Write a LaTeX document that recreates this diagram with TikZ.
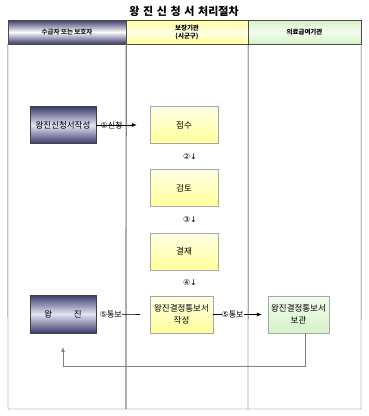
\documentclass[tikz,border=0pt]{standalone}
\usepackage{fontspec}
\setmainfont{Noto Sans CJK KR}
\newfontfamily\circfont{DejaVu Sans}
\usetikzlibrary{arrows.meta,positioning}

\definecolor{navy}{HTML}{3A3A6A}
\definecolor{lilac}{HTML}{E4E4F4}
\definecolor{lemon}{HTML}{FFFF9A}
\definecolor{cream}{HTML}{FFFFE6}
\definecolor{mint}{HTML}{D6F2C8}
\definecolor{paleg}{HTML}{F2FCEE}
\newcommand{\stepno}[1]{{\circfont #1}}

\begin{document}
\begin{tikzpicture}[x=1pt, y=-1pt,
  hdr/.style={rectangle, draw=gray!60!black, minimum height=24pt, align=center, font=\fontsize{6.5}{8}\selectfont\bfseries, inner sep=0pt},
  navybox/.style={rectangle, draw=gray!50!black, top color=navy, bottom color=navy, middle color=lilac, minimum width=66pt, minimum height=37pt, align=center, font=\fontsize{8.5}{12}\selectfont, inner sep=0pt},
  yelbox/.style={rectangle, draw=gray!70, top color=cream, bottom color=lemon, minimum width=68pt, minimum height=37pt, align=center, font=\fontsize{8.5}{12}\selectfont, inner sep=0pt},
  grnbox/.style={rectangle, draw=gray!70, top color=paleg, bottom color=mint, minimum width=61pt, minimum height=37pt, align=center, font=\fontsize{8.5}{12}\selectfont, inner sep=0pt},
  arr/.style={-{Latex[length=5pt,width=4pt]}, semithick},
  lab/.style={font=\fontsize{8}{9}\selectfont, inner sep=0pt}
]
\useasboundingbox (0,0) rectangle (369,416);
\node[font=\fontsize{11}{12}\selectfont\bfseries] (title) at (184,11) {왕\,\,진\,\,신\,\,청\,\,서\,\,처리절차};
% header row
\node[hdr, minimum width=118pt, top color=navy, bottom color=navy, middle color=white!85!lilac, text=white!15!black] (hdrA) at (67,32) {수급자 또는 보호자};
\node[hdr, minimum width=122pt, top color=lemon, bottom color=lemon, middle color=cream] (hdrB) at (187,32) {보장기관\\(시군구)};
\node[hdr, minimum width=113pt, top color=mint, bottom color=mint, middle color=paleg] (hdrC) at (304.5,32) {의료급여기관};
\draw[gray!60!black] (hdrA.south west) -- (8,409) -- (361,409) -- (hdrC.south east);
\draw[gray, line width=1.2pt] (hdrA.south east) -- (126,409);
\draw[black] (hdrB.south east) -- (248,409);
% process boxes
\node[navybox] (req) at (63,125) {왕진신청서작성};
\node[yelbox] (recv) at (184,125) {접수};
\node[yelbox] (review) at (184,188) {검토};
\node[yelbox] (approve) at (184,251.5) {결재};
\node[yelbox, minimum width=63pt] (notice) at (181.5,314.5) {왕진결정통보서\\작성};
\node[navybox, minimum height=38pt] (visit) at (63,314) {왕 \hspace{18pt} 진};
\node[grnbox] (keep) at (298.5,314.5) {왕진결정통보서\\보관};
% steps
\draw[arr] (req) -- node[lab, pos=0.38]{\stepno{①}신청} ([xshift=-13pt]recv.west);
\node[lab] (s2) at (190,157) {\stepno{②↓}};
\node[lab] (s3) at (190,220) {\stepno{③↓}};
\node[lab] (s4) at (190,283) {\stepno{④↓}};
\draw[arr] ([xshift=-10pt]notice.west) -- node[lab, pos=0.75, fill=white]{\stepno{⑤}통보} ([xshift=5pt]visit.east);
\draw[arr] (notice) -- node[lab, pos=0.4, fill=white]{\stepno{⑤}통보} ([xshift=-6pt]keep.west);
\draw[arr, gray] ([xshift=7pt]keep.south) -- ++(0,33) -| ([yshift=-14pt]visit.south);
\end{tikzpicture}
\end{document}
